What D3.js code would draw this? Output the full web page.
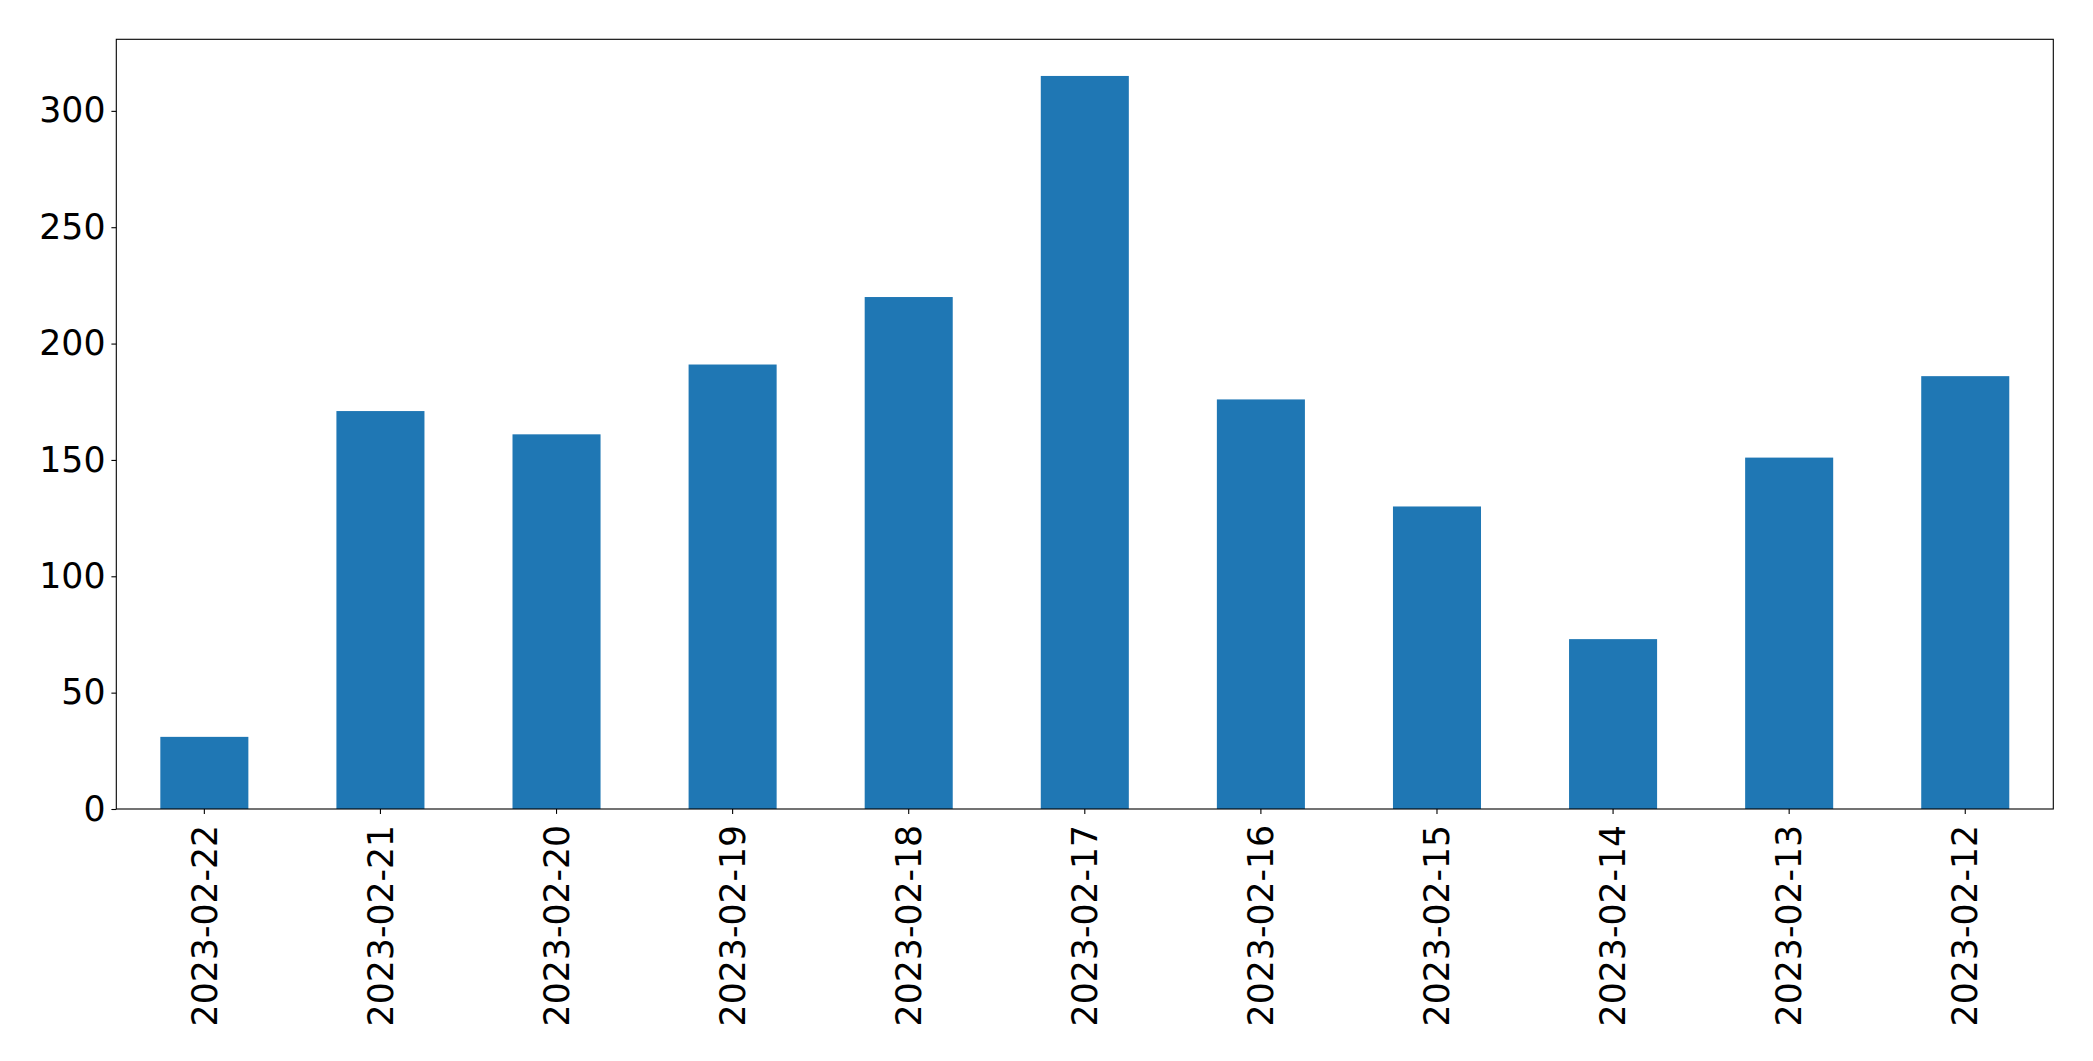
<!DOCTYPE html>
<html>
<head>
<meta charset="utf-8">
<script src="https://cdn.jsdelivr.net/npm/d3@7"></script>
<style>
  html, body { margin: 0; padding: 0; background: #fff; }
  svg { display: block; }
  text { font-family: "DejaVu Sans", sans-serif; fill: #000; }
</style>
</head>
<body>
<svg id="chart" width="2093" height="1061"></svg>
<script>
const categories = ["2023-02-22", "2023-02-21", "2023-02-20", "2023-02-19", "2023-02-18", "2023-02-17", "2023-02-16", "2023-02-15", "2023-02-14", "2023-02-13", "2023-02-12"];
const values = [31, 171, 161, 191, 220, 315, 176, 130, 73, 151, 186];
const yTicks = [0, 50, 100, 150, 200, 250, 300];

const W = 2093, H = 1061;
const plot = { left: 116.3, top: 39.3, right: 2053.3, bottom: 809 };
const fontSize = 34.7;
const tickLen = 4.9, tickPad = 4.9;
const barColor = "#1f77b4";

const svg = d3.select("#chart");

const x = d3.scaleBand()
  .domain(categories)
  .range([plot.left, plot.right])
  .paddingInner(0.5)
  .paddingOuter(0.25);

const y = d3.scaleLinear()
  .domain([0, d3.max(values) * 1.05])
  .range([plot.bottom, plot.top]);

// bars
svg.append("g")
  .selectAll("rect")
  .data(categories.map((c, i) => ({ c, v: values[i] })))
  .join("rect")
  .attr("x", d => x(d.c))
  .attr("width", x.bandwidth())
  .attr("y", d => y(d.v))
  .attr("height", d => y(0) - y(d.v))
  .attr("fill", barColor);

// y axis
const yAxis = d3.axisLeft(y)
  .tickValues(yTicks)
  .tickSize(tickLen)
  .tickPadding(tickPad + 1)
  .tickFormat(d3.format("d"));
const gy = svg.append("g")
  .attr("transform", `translate(${plot.left},0)`)
  .call(yAxis);
gy.select(".domain").remove();
gy.selectAll("line").attr("stroke", "#000").attr("stroke-width", 1.1);
gy.selectAll("text")
  .style("font-family", "'DejaVu Sans', sans-serif")
  .style("font-size", fontSize + "px")
  .attr("fill", "#000");

// x axis
const xAxis = d3.axisBottom(x).tickSize(tickLen).tickPadding(0);
const gx = svg.append("g")
  .attr("transform", `translate(0,${plot.bottom})`)
  .call(xAxis);
gx.select(".domain").remove();
gx.selectAll("line").attr("stroke", "#000").attr("stroke-width", 1.1);
gx.selectAll("text")
  .style("font-family", "'DejaVu Sans', sans-serif")
  .style("font-size", fontSize + "px")
  .attr("fill", "#000")
  .attr("text-anchor", "end")
  .attr("x", 0)
  .attr("y", 0)
  .attr("dy", "0.35em")
  .attr("transform", `translate(0,${tickLen + tickPad + 6}) rotate(-90)`);

// frame (spines)
svg.append("rect")
  .attr("x", plot.left)
  .attr("y", plot.top)
  .attr("width", plot.right - plot.left)
  .attr("height", plot.bottom - plot.top)
  .attr("fill", "none")
  .attr("stroke", "#000")
  .attr("stroke-width", 1.1);
</script>
</body>
</html>
